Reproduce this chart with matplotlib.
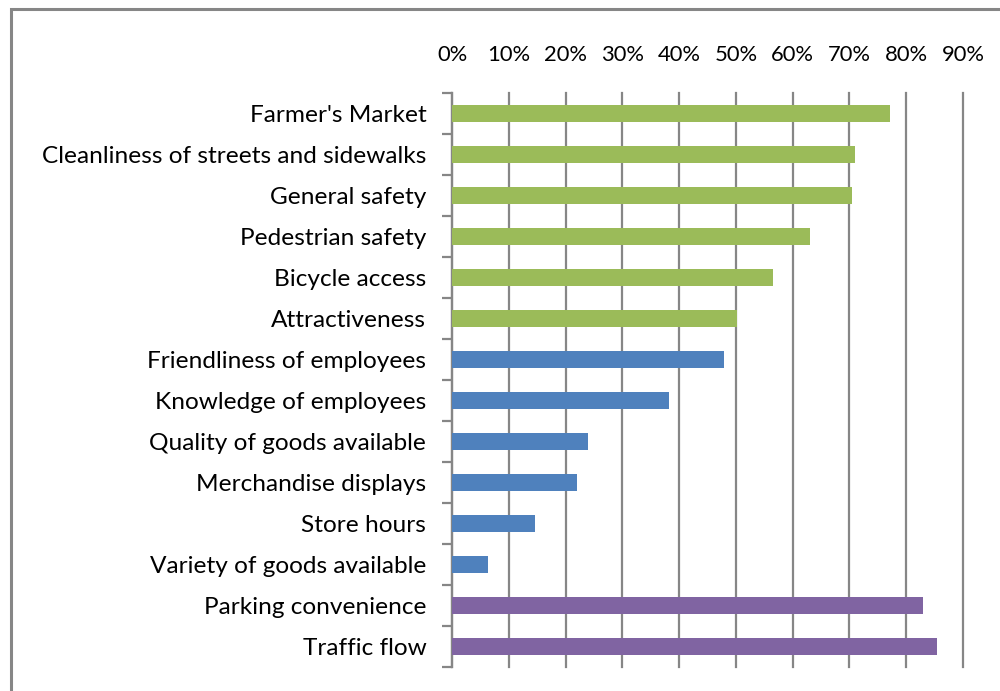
import numpy as np
import matplotlib.pyplot as plt
from matplotlib.patches import Rectangle
from matplotlib.ticker import PercentFormatter

# categories top to bottom
categories = [
    "Farmer's Market",
    "Cleanliness of streets and sidewalks",
    "General safety",
    "Pedestrian safety",
    "Bicycle access",
    "Attractiveness",
    "Friendliness of employees",
    "Knowledge of employees",
    "Quality of goods available",
    "Merchandise displays",
    "Store hours",
    "Variety of goods available",
    "Parking convenience",
    "Traffic flow",
]
values = [77.2, 71.0, 70.5, 63.1, 56.6, 50.2,
          47.9, 38.2, 24.0, 22.1, 14.6, 6.3,
          82.9, 85.4]
groups = ["green"] * 6 + ["blue"] * 6 + ["purple"] * 2
group_colors = {"green": "#9BBB59", "blue": "#4F81BD", "purple": "#8064A2"}
x_ticks = [0, 10, 20, 30, 40, 50, 60, 70, 80, 90]


def main():
    plt.rcParams['font.family'] = ['Lato', 'DejaVu Sans']
    grid_col = "#868686"

    fig = plt.figure(figsize=(10, 6.91), dpi=100)
    ax = fig.add_axes([0.452, 0.0347, 0.963 - 0.452, 0.8654 - 0.0347])

    # outer chart frame (runs off right/bottom like the original)
    fig.patches.append(Rectangle((11 / 1000, -0.1), 1.2, 1 - 9 / 691 + 0.1,
                                 transform=fig.transFigure, fill=False,
                                 edgecolor=grid_col, linewidth=2.2))

    y = np.arange(len(categories))
    cols = [group_colors[g] for g in groups]
    ax.barh(y, values, height=0.41, color=cols, zorder=3)

    ax.set_xlim(0, 90)
    ax.set_ylim(len(categories) - 0.5, -0.5)

    ax.xaxis.tick_top()
    ax.set_xticks(x_ticks)
    ax.xaxis.set_major_formatter(PercentFormatter(decimals=0))
    ax.tick_params(axis='x', length=0, pad=20, labelsize=15.8)
    ax.grid(axis='x', color=grid_col, linewidth=1.6, zorder=0)
    for gl in ax.get_xgridlines():
        gl.set_clip_on(False)

    ax.set_yticks(y)
    ax.set_yticklabels(categories)
    ax.set_yticks(np.arange(-0.5, len(categories)), minor=True)
    ax.tick_params(axis='y', which='major', length=0, pad=18.5, labelsize=17.6)
    ax.tick_params(axis='y', which='minor', length=7, width=1.6, color=grid_col)

    for s in ['top', 'right', 'bottom']:
        ax.spines[s].set_visible(False)
    ax.spines['left'].set_color(grid_col)
    ax.spines['left'].set_linewidth(1.6)

    fig.savefig("out.png", dpi=100)


if __name__ == "__main__":
    main()
